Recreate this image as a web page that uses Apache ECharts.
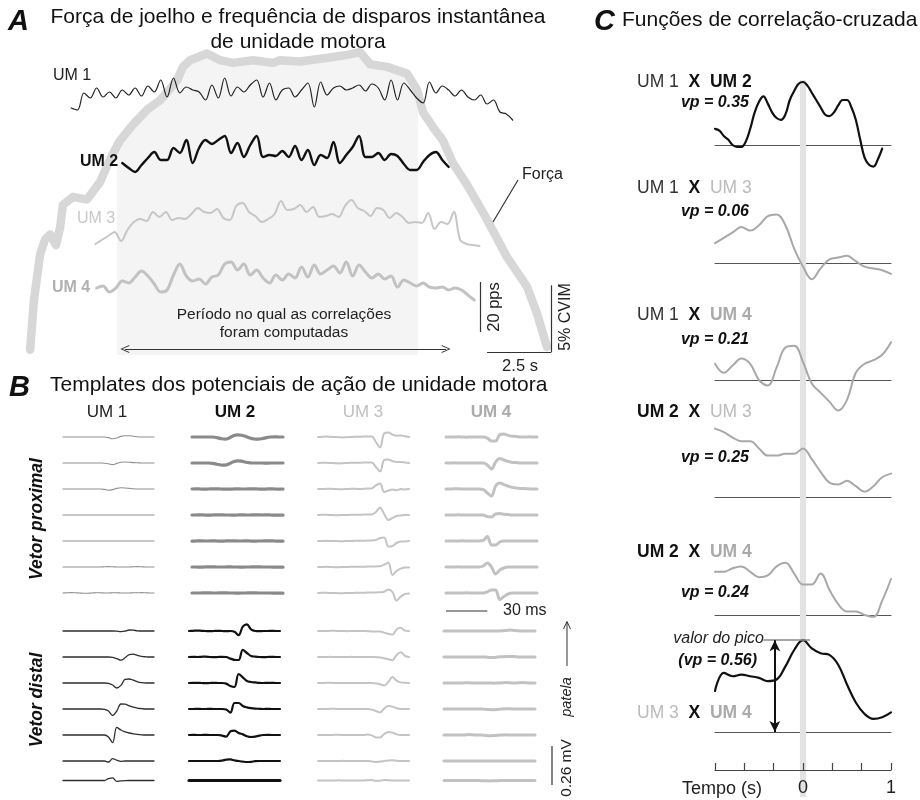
<!DOCTYPE html>
<html><head><meta charset="utf-8">
<script src="https://cdn.jsdelivr.net/npm/echarts@6/dist/echarts.min.js"></script>
<style>html,body{margin:0;padding:0;background:#fff}#c{width:920px;height:800px}</style>
</head><body><div id="c"></div>
<script>
// ===================== DATA =====================
// Panel A: knee force (% CVIM) vs time (s)
const forceTime = [0.2,0.35,0.59,0.78,0.98,1.21,1.37,1.48,1.88,2.42,2.93,3.32,3.71,4.22,4.77,5.27,5.55,5.94,6.17,6.45,7.11,7.62,8.13,8.91,9.69,9.96,10.74,11.91,12.58,13.09,13.48,14.14,14.92,15.31,15.55,15.94,16.33,16.72,17.27,18.05,18.83,19.61,20.0,20.39];
const forceCVIM = [0.4,4.1,7.5,8.6,9.0,8.2,9.5,11.2,11.8,11.6,12.9,14.6,16.0,17.2,18.3,19.0,19.6,20.5,21.5,22.0,22.5,22.0,21.8,22.0,21.8,22.0,21.9,22.2,22.4,22.6,21.7,21.5,21.0,19.8,18.1,17.0,16.0,14.3,12.7,10.1,7.3,5.1,3.1,0.6];
// correlation window (s)
const windowStart = 3.6, windowEnd = 15.35;
// instantaneous discharge rates (pps), sampled every rateStep s from each start time
const rateStep = 0.25;
const um1Start = 1.8;
const um1Rate = [8.8,8,14.8,12.8,16.8,13.2,15.2,12.8,16,14,16.8,13.6,17.6,15.2,20,13.2,20.8,14.8,17.2,16,15.2,12,18,12.8,20.8,13.6,17.2,15.2,18,20,13.2,18.8,12,16,16.8,13.2,16,18.8,9.2,19.2,14,16.8,17.6,16,16.8,18,15.6,18.4,16.8,12,20,12,18.8,16,12.8,10.8,19.2,14.8,17.6,16,13.6,16,13.2,12,14,10.4,12,7.2,6.4,4];
const um2Start = 3.8;
const um2Rate = [18.8,16.8,15.2,18,20.8,23.2,20,20,24.8,22.8,28,18.8,24.8,28,26.4,28,29.6,22.8,26.8,21.2,26,29.6,21.2,22,21.6,23.6,21.2,25.6,20,24,18,22,20.8,27.2,18.8,22,25.2,29.6,21.2,21.2,22.8,20,22.4,21.6,18.4,16,16,19.2,22,23.2,20,17.2];
const um3Start = 2.75;
const um3Rate = [10.4,12,13.6,15.2,11.6,16,19.2,20.4,19.6,23.2,21.2,23.2,20,20.8,20.4,22.4,24.8,23.2,22.8,24.4,20.8,20,25.6,26.8,23.2,21.6,19.2,20.4,22.4,27.6,24,24.4,26,23.2,25.2,21.2,21.6,22.4,21.2,25.6,28,24.8,23.6,21.6,24.8,24,20.8,22.8,21.2,18.8,19.2,18.8,22.8,16.4,19.2,18.4,23.2,12,10.4,10,9.6];
const um4Start = 2.8;
const um4Rate = [16.8,17.6,15.2,16.8,19.6,18.8,21.2,23.6,21.6,18.4,15.2,16,22,26.4,21.6,19.6,20.4,18.4,21.2,22,26.4,27.2,24,26.4,22,24,20.8,18.8,22,20,22.4,20.8,25.2,21.2,26,22.4,24,25.6,22.8,27.2,21.6,26,23.2,20.8,22.4,20.4,21.6,17.2,20,18.8,17.6,18.8,17.2,16.8,17.2,16,16.8,16,14,12];

// Panel B: MUAP templates (µV), one sample every templateStep ms, 7 channels per vector
const templateStep = 3;
const um1Prox = [
 [0,0,0,0,0,0,0,0,0,0,0,-3,-9,-5,3,6,6,4,1,0,0,0,0],
 [0,0,0,0,0,0,0,0,0,0,-1,-4,-8,-2,4,5,4,2,1,0,0,0,0],
 [0,0,0,0,0,0,0,0,0,0,-2,-6,-3,3,6,5,3,1,0,0,0,0,0],
 [0,0,0,0,0,0,0,0,0,0,0,0,0,0,0,0,0,0,0,0,0,0,0],
 [0,0,0,0,0,0,0,0,0,0,0,0,0,0,0,0,0,0,0,0,0,0,0],
 [0,0,0,0,0,0,0,0,0,0,1,2,1,0,0,0,0,1,2,1,0,0,0],
 [0,1,2,1,0,-1,-1,0,1,1,0,0,1,1,0,0,0,1,1,2,1,0,0]];
const um1Dist = [
 [0,0,0,0,0,0,0,0,0,0,0,0,0,-1,-3,-1,5,4,1,0,0,0,0],
 [0,0,0,0,0,0,0,0,0,0,0,0,-2,-8,-16,-4,12,14,8,3,1,0,0],
 [0,0,0,0,0,0,0,0,0,0,0,-2,-10,-25,-12,18,20,14,6,2,0,0,0],
 [0,0,0,0,0,0,0,0,0,0,-2,-10,-32,-10,25,24,16,9,4,2,0,0,0],
 [0,0,0,0,0,0,0,0,0,0,0,-10,-38,38,25,16,10,6,3,1,0,0,0],
 [0,0,0,0,0,0,0,0,0,0,0,-5,12,4,-2,0,0,0,0,0,0,0,0],
 [0,0,0,0,0,0,0,0,0,0,0,12,18,-6,-3,-1,0,0,0,0,0,0,0]];
const um2Prox = [
 [0,0,0,0,0,0,-3,-8,-11,-5,6,11,9,3,-5,-10,-11,-8,-3,0,1,0,0],
 [0,0,0,0,0,-2,-6,-10,-11,-4,6,11,9,4,1,0,0,0,-1,0,0,0,0],
 [0,1,0,-1,0,1,1,0,-1,-1,0,1,0,0,1,1,0,-1,0,1,0,-1,0],
 [0,0,1,0,-1,0,1,1,0,0,-1,0,1,0,0,1,1,0,1,0,-1,-1,-1],
 [-1,0,1,0,0,1,0,-1,0,1,1,0,0,1,0,-1,0,0,1,1,0,-1,-1],
 [0,0,-1,0,1,1,0,0,0,1,0,0,-1,0,0,1,1,0,0,0,-1,-1,-1],
 [0,0,0,1,1,0,0,1,1,0,0,-1,0,0,1,1,0,0,0,0,-1,-1,-1]];
const um2Dist = [
 [0,1,2,1,0,-1,0,1,0,-1,0,-4,-21,22,33,8,0,-1,0,0,1,0,0],
 [0,1,0,1,2,0,-1,0,1,0,-8,-14,-15,36,20,5,2,0,-1,0,1,0,0],
 [0,1,1,0,-1,0,1,0,0,-3,-15,-20,45,28,10,5,3,1,0,1,1,0,0],
 [0,0,1,0,0,1,0,0,0,-3,-18,30,30,15,8,4,2,1,0,1,0,0,0],
 [0,1,0,0,1,0,0,0,-3,-8,18,22,10,3,-6,-10,-8,-3,0,1,0,0,0],
 [0,0,0,0,0,0,0,0,2,7,8,3,0,-3,-5,-4,-1,0,0,0,0,0,0],
 [0,0,0,0,0,0,0,0,0,0,0,0,0,0,0,0,0,0,0,0,0,0,0]];
const um3Prox = [
 [0,1,2,1,0,-1,-2,-1,0,1,1,2,2,3,-25,-52,18,22,12,6,8,4,0],
 [0,1,1,0,-1,-2,-1,0,1,1,1,2,2,2,-20,-42,15,18,10,5,5,3,0],
 [0,0,1,1,0,-1,-1,0,1,1,0,1,2,3,18,28,-15,-8,-3,-6,0,-2,0],
 [0,1,1,0,-1,-1,0,0,1,1,1,2,2,3,15,38,5,-25,-15,-5,-2,0,0],
 [0,0,1,0,0,-1,-1,0,0,1,1,1,2,3,5,15,18,-28,-25,-10,-3,-2,0],
 [0,0,1,0,-1,-1,0,0,1,1,1,1,2,2,3,4,12,22,-40,-20,-8,-3,-2],
 [0,1,1,0,0,-1,-1,0,0,1,1,1,2,2,3,4,6,18,5,-38,-18,-5,-2]];
const um3Dist = [
 [0,0,0,1,1,0,0,-1,0,0,0,0,-1,-2,-3,-3,-8,-14,-18,8,16,2,0],
 [0,0,0,1,0,0,0,0,1,0,0,0,0,0,-1,-2,-6,-12,-16,10,24,6,0],
 [0,0,1,1,0,0,0,0,0,0,0,0,0,0,-2,-6,-12,5,30,12,3,1,0],
 [0,0,0,1,1,0,0,0,0,0,0,0,0,-3,-10,-17,2,15,12,4,0,0,0],
 [0,0,0,0,1,1,0,0,0,0,0,0,2,-2,-12,-13,5,15,12,3,0,0,0],
 [0,0,0,0,0,0,1,0,0,0,0,0,0,-2,-5,-3,0,3,4,1,0,0,0],
 [0,0,0,0,0,1,0,0,0,0,0,0,2,3,-2,-1,3,2,0,0,0,0,0]];
const um4Prox = [
 [0,0,0,1,0,-1,0,0,0,0,-6,-20,-20,12,15,8,4,3,0,0,1,0,0],
 [0,0,1,0,0,0,0,0,0,0,-10,-30,5,22,15,8,3,2,0,0,0,0,0],
 [0,0,1,1,0,0,0,0,0,-3,-20,-35,15,30,22,14,8,5,3,2,1,0,0],
 [0,0,0,1,0,0,0,0,0,0,-8,-10,5,7,4,2,0,0,0,0,0,0,0],
 [0,0,0,0,1,0,0,0,0,3,22,-20,-20,-5,0,0,0,0,0,0,0,0,0],
 [0,0,0,1,0,0,0,0,0,5,20,0,-35,-15,-5,0,0,0,0,0,0,0,0],
 [0,0,0,0,0,1,0,0,0,0,6,15,15,-33,-18,-5,0,0,0,0,0,0,0]];
const um4Dist = [
 [0,0,0,0,0,0,0,0,0,0,0,0,0,0,1,3,5,3,1,0,0,0,0],
 [0,0,0,0,0,0,0,0,0,0,0,-2,-2,0,1,2,3,2,0,0,0,0,0],
 [0,0,0,0,0,1,1,0,0,0,0,0,-1,0,1,2,1,0,1,2,1,0,0],
 [0,0,0,0,0,0,0,0,0,0,-1,-3,-4,-2,0,1,1,0,0,0,0,0,0],
 [0,0,0,0,0,0,2,1,0,0,-2,-4,-3,-1,0,1,0,0,0,0,0,0,0],
 [0,0,0,0,0,0,0,0,0,0,0,0,0,0,0,0,0,0,0,0,0,0,0],
 [0,0,0,0,0,0,0,0,0,-1,-2,-3,-2,-1,0,0,0,0,0,0,0,0,0]];

// Panel C: cross-correlation functions, lag from lagStart (s); cc12 sampled every 0.05 s, the others every 0.1 s
const lagStart = -1;
const cc12Step = 0.05, ccStep = 0.1;
const cc12 = [0.09,0.08,0.05,0.03,0.0,-0.01,-0.01,0.02,0.09,0.18,0.24,0.27,0.23,0.18,0.15,0.14,0.17,0.25,0.30,0.34,0.35,0.33,0.29,0.25,0.21,0.17,0.16,0.18,0.22,0.25,0.25,0.21,0.14,0.03,-0.07,-0.11,-0.12,-0.08,-0.02];
const cc13 = [0.11,0.14,0.17,0.20,0.18,0.21,0.26,0.27,0.21,0.08,-0.02,-0.09,-0.03,0.02,0.03,0.04,0.01,-0.02,-0.03,-0.04,-0.06];
const cc14 = [0.09,0.04,0.08,0.12,0.09,0.0,-0.03,0.07,0.18,0.19,0.1,-0.02,-0.07,-0.12,-0.17,-0.11,0.04,0.09,0.11,0.14,0.21];
const cc23 = [0.38,0.36,0.33,0.31,0.31,0.27,0.23,0.23,0.24,0.24,0.27,0.21,0.14,0.08,0.07,0.09,0.06,0.03,0.06,0.11,0.13];
const cc24 = [0.24,0.24,0.26,0.27,0.24,0.21,0.22,0.27,0.29,0.23,0.17,0.17,0.23,0.14,0.06,0.02,0.02,0.0,-0.01,0.08,0.20];
const cc34 = [0.25,0.36,0.34,0.35,0.34,0.33,0.31,0.32,0.40,0.50,0.56,0.51,0.48,0.47,0.41,0.29,0.18,0.11,0.08,0.09,0.12];
const pairNames = [['UM 1','UM 2'],['UM 1','UM 3'],['UM 1','UM 4'],['UM 2','UM 3'],['UM 2','UM 4'],['UM 3','UM 4']];
const peakValues = ['0.35','0.06','0.21','0.25','0.24','0.56'];
const markerLag = -0.32; // lag where the peak-value arrow is drawn

// ===================== BUILD =====================
const FF = '"Liberation Sans", Arial, Helvetica, sans-serif';
const chart = echarts.init(document.getElementById('c'), null, {renderer:'canvas'});
const grid = [], xAxis = [], yAxis = [], series = [];
function addGrid(box, xr, yr, xExtra, yExtra){
  const gi = grid.length;
  grid.push(Object.assign({show:false, containLabel:false}, box));
  xAxis.push(Object.assign({type:'value', gridIndex:gi, min:xr[0], max:xr[1], show:false, splitLine:{show:false}}, xExtra||{}));
  yAxis.push(Object.assign({type:'value', gridIndex:gi, min:yr[0], max:yr[1], show:false, splitLine:{show:false}}, yExtra||{}));
  return gi;
}
function lineSeries(gi, data, color, width, smooth, z, extra){
  return Object.assign({type:'line', xAxisIndex:gi, yAxisIndex:gi, data, showSymbol:false, symbol:'none',
    smooth: smooth, silent:true, animation:false, z: z||3,
    lineStyle:{color, width, cap:'round', join:'round'}}, extra||{});
}

// ---------- Panel A ----------
const A = {left:25, width:537.6, tMax:21};
const fTop = 355 - 24*13.4;
const gF = addGrid({left:A.left, width:A.width, top:fTop, height:24*13.4}, [0,A.tMax], [0,24]);
function forceAt(t){
  for (let i=1;i<forceTime.length;i++){
    if (forceTime[i]>=t){ const a=(t-forceTime[i-1])/(forceTime[i]-forceTime[i-1]); return forceCVIM[i-1]+a*(forceCVIM[i]-forceCVIM[i-1]); }
  }
  return forceCVIM[forceCVIM.length-1];
}
const shade = [[windowStart, forceAt(windowStart)]];
forceTime.forEach((t,i)=>{ if (t>windowStart && t<windowEnd) shade.push([t, forceCVIM[i]]); });
shade.push([windowEnd, forceAt(windowEnd)]);
series.push(lineSeries(gF, shade, 'rgba(0,0,0,0)', 0, false, 1, {areaStyle:{color:'#f4f4f4', opacity:1}}));
series.push(lineSeries(gF, forceTime.map((t,i)=>[t, forceCVIM[i]]), '#d7d7d7', 8.5, false, 2));
const chev = 'path://M0,12 L6,0 L12,12 L10.6,12 L6,2.8 L1.4,12 Z';
series.push({type:'line', xAxisIndex:gF, yAxisIndex:gF, data:[], silent:true, animation:false, z:6,
  markLine:{silent:true, animation:false, symbol:'none', label:{show:false},
    lineStyle:{color:'#333', width:1.2, type:'solid'},
    data:[
      [{coord:[20.55,0.2]},{coord:[20.55,5.2]}],
      [{coord:[18.05,0.2]},{coord:[20.55,0.2]}],
      [{coord:[3.9,0.45], symbol:chev, symbolSize:[8,9]},{coord:[16.45,0.45], symbol:chev, symbolSize:[8,9]}]
    ]}});
const umDefs = [
  {start:um1Start, rate:um1Rate, base:130, color:'#222', width:1.2},
  {start:um2Start, rate:um2Rate, base:210, color:'#111', width:2.4},
  {start:um3Start, rate:um3Rate, base:270, color:'#c6c6c6', width:2},
  {start:um4Start, rate:um4Rate, base:330, color:'#c2c2c2', width:3}
];
const umGrids = umDefs.map(d=>{
  const gi = addGrid({left:A.left, width:A.width, top:d.base-100, height:125}, [0,A.tMax], [-10,40]);
  series.push(lineSeries(gi, d.rate.map((v,k)=>[d.start + k*rateStep, v]), d.color, d.width, 0.35, 5));
  return gi;
});
series.push({type:'line', xAxisIndex:umGrids[3], yAxisIndex:umGrids[3], data:[], silent:true, animation:false, z:6,
  markLine:{silent:true, animation:false, symbol:'none', label:{show:false},
    lineStyle:{color:'#333', width:1.2, type:'solid'},
    data:[[{coord:[17.77,-0.8]},{coord:[17.77,19.2]}]]}});

// ---------- Panel B ----------
const proxRows = [437,463,489,515,541,567,593];
const distRows = [631,657,683,709,735,761,787];
const tplSets = [
 {data:um1Prox, rows:proxRows, left:63,  color:'#8f8f8f', width:1.1},
 {data:um2Prox, rows:proxRows, left:192, color:'#8a8a8a', width:3.2},
 {data:um3Prox, rows:proxRows, left:318, color:'#c4c4c4', width:2},
 {data:um4Prox, rows:proxRows, left:446, color:'#c2c2c2', width:3},
 {data:um1Dist, rows:distRows, left:63,  color:'#2e2e2e', width:1.3},
 {data:um2Dist, rows:distRows, left:189, color:'#111', width:2.2},
 {data:um3Dist, rows:distRows, left:318, color:'#c4c4c4', width:2},
 {data:um4Dist, rows:distRows, left:444, color:'#c2c2c2', width:3}
];
const tplMax = (um1Prox[0].length-1)*templateStep;
let gScaleX = 0, gScaleY = 0;
tplSets.forEach((s)=>{
  s.data.forEach((tpl, r)=>{
    const gi = addGrid({left:s.left, width:91, top:s.rows[r]-26, height:52}, [0,tplMax], [-130,130]);
    const w = (s.data===um2Dist && r===6) ? 3.2 : s.width;
    series.push(lineSeries(gi, tpl.map((v,i)=>[i*templateStep, v]), s.color, w, 0.35, 3));
    if (s.data===um4Prox && r===6) gScaleX = gi;
    if (s.data===um4Dist && r===6) gScaleY = gi;
  });
});

// ---------- Panel C ----------
const C = {left:715, width:176};
const gBand = addGrid({left:C.left, width:C.width, top:80, height:717}, [-1,1], [0,1]);
series.push({type:'line', xAxisIndex:gBand, yAxisIndex:gBand, data:[], silent:true, animation:false, z:0,
  markArea:{silent:true, animation:false, itemStyle:{color:'#e3e3e3'}, data:[[{xAxis:-0.035},{xAxis:0.035}]]}});
const ccSets = [
  {d:cc12, step:cc12Step, base:145, scale:180, color:'#111', width:2.2},
  {d:cc13, step:ccStep, base:263, scale:180, color:'#a8a8a8', width:2},
  {d:cc14, step:ccStep, base:380, scale:180, color:'#a8a8a8', width:2},
  {d:cc23, step:ccStep, base:497, scale:180, color:'#a8a8a8', width:2},
  {d:cc24, step:ccStep, base:615, scale:180, color:'#a8a8a8', width:2},
  {d:cc34, step:ccStep, base:732, scale:164, color:'#111', width:2.2}
];
let gPair6 = 0;
ccSets.forEach((s, k)=>{
  const yMin = -0.3, yMax = 0.6;
  const gi = addGrid({left:C.left, width:C.width, top:s.base - yMax*s.scale, height:(yMax-yMin)*s.scale}, [-1,1], [yMin,yMax],
    {show:true, axisLine:{show:true, onZero:true, lineStyle:{color:'#555', width:1}}, axisTick:{show:false}, axisLabel:{show:false}});
  series.push(lineSeries(gi, s.d.map((v,i)=>[lagStart + i*s.step, v]), s.color, s.width, 0.4, 4));
  if (k===5) gPair6 = gi;
});
const pv = parseFloat(peakValues[5]);
series.push({type:'line', xAxisIndex:gPair6, yAxisIndex:gPair6, data:[], silent:true, animation:false, z:6,
  markLine:{silent:true, animation:false, label:{show:false},
    data:[
      [{coord:[-0.45, pv], symbol:'none', lineStyle:{color:'#888', width:1.5, type:'solid'}},{coord:[0.08, pv], symbol:'none'}],
      [{coord:[markerLag, pv], symbol:'arrow', symbolSize:[8,11], lineStyle:{color:'#111', width:2, type:'solid'}},{coord:[markerLag, 0], symbol:'arrow', symbolSize:[8,11]}]
    ]}});
const gAxis = addGrid({left:C.left, width:C.width, top:760, height:10}, [-1,1], [0,1],
  {show:true, position:'bottom', interval:1/3, z:10,
   axisLine:{show:true, onZero:false, lineStyle:{color:'#444', width:1.2}},
   axisTick:{show:true, inside:true, length:7, lineStyle:{color:'#444', width:1.2}},
   axisLabel:{show:true, margin:9, fontSize:18, color:'#222', fontFamily:FF,
     formatter:v=>Math.abs(v)<1e-6?'0':(Math.abs(v-1)<1e-6?'1':'')}});

chart.setOption({animation:false, backgroundColor:'#fff', grid, xAxis, yAxis, series});

// ===================== TEXT / ANNOTATIONS =====================
const g = [];
function T(x,y,text,font,fill,align,rot){
  g.push({type:'text', x, y, rotation:rot||0, silent:true, z:100,
    style:{text, font:font+' '+FF, fill:fill||'#222', align:align||'left', verticalAlign:'middle'}});
}
function L(x1,y1,x2,y2,stroke,w){ g.push({type:'line', silent:true, z:100, shape:{x1,y1,x2,y2}, style:{stroke:stroke||'#333', lineWidth:w||1.2}}); }
const R = Math.PI/2;
// A
T(8,22,'A','bold italic 29px','#111');
T(298,17,'Força de joelho e frequência de disparos instantânea','21px','#111','center');
T(298,42,'de unidade motora','21px','#111','center');
T(53,76,'UM 1','16px','#222');
T(80,162,'UM 2','bold 16px','#111');
T(77,219,'UM 3','16px','#c8c8c8');
T(52,288,'UM 4','bold 16px','#b0b0b0');
T(522,175,'Força','16px','#222');
L(493,222,518,180,'#333',1.2);
T(284,315,'Período no qual as correlações','15.5px','#222','center');
T(284,333,'foram computadas','15.5px','#222','center');
T(520,366,'2.5 s','16.5px','#222','center');
T(494,307,'20 pps','16.5px','#222','center',R);
T(566,317,'5% CVIM','16px','#222','center',R);
// B
T(9,388,'B','bold italic 29px','#111');
T(50,385,'Templates dos potenciais de ação de unidade motora','21px','#111','left');
T(107,412,'UM 1','17px','#222','center');
T(235,412,'UM 2','bold 17px','#111','center');
T(363,412,'UM 3','17px','#c0c0c0','center');
T(491,412,'UM 4','bold 17px','#ababab','center');
T(37,519,'Vetor proximal','bold italic 17.5px','#111','center',R);
T(37,700,'Vetor distal','bold italic 17.5px','#111','center',R);
T(503,611,'30 ms','16px','#222','left');
T(567,697,'patela','italic 14.5px','#222','center',R);
T(567,768,'0.26 mV','15.5px','#222','center',R);
L(567,666,567,622,'#333',1);
g.push({type:'polyline', silent:true, z:100, shape:{points:[[563.5,629],[567,621.5],[570.5,629]]}, style:{stroke:'#333', lineWidth:1, fill:null}});
// C
T(594,22,'C','bold italic 29px','#111');
T(622,20,'Funções de correlação-cruzada','21px','#111','left');
const umStyle = {
  'UM 1':{fontSize:17.5, fontWeight:'normal', fill:'#333'},
  'UM 2':{fontSize:17.5, fontWeight:'bold', fill:'#111'},
  'UM 3':{fontSize:17.5, fontWeight:'normal', fill:'#bbbbbb'},
  'UM 4':{fontSize:17.5, fontWeight:'bold', fill:'#aaaaaa'}
};
const keyOf = {'UM 1':'u1','UM 2':'u2','UM 3':'u3','UM 4':'u4'};
const rich = {x:{fontSize:17.5, fontWeight:'bold', fill:'#111', fontFamily:FF}};
Object.keys(umStyle).forEach(k=>{ rich[keyOf[k]] = Object.assign({fontFamily:FF}, umStyle[k]); });
const labelY = [82,188,315,412,552,713];
const vpY = [103,212,340,458,593,null];
pairNames.forEach((p,k)=>{
  g.push({type:'text', x:637, y:labelY[k], silent:true, z:100,
    style:{text:'{'+keyOf[p[0]]+'|'+p[0]+'}  {x|X}  {'+keyOf[p[1]]+'|'+p[1]+'}', rich, verticalAlign:'middle', align:'left', font:'17.5px '+FF}});
  if (vpY[k]!==null) T(749,vpY[k],'vp = '+peakValues[k],'bold italic 16px','#111','right');
});
T(764,639,'valor do pico','italic 16px','#222','right');
T(757,661,'(vp = '+peakValues[5]+')','bold italic 16px','#111','right');
T(722,789,'Tempo (s)','18px','#222','center');

// scale bars of panel B derived from the template axes
const x0 = chart.convertToPixel({xAxisIndex:gScaleX}, 0);
const x30 = chart.convertToPixel({xAxisIndex:gScaleX}, 30);
L(x0,611,x30,611,'#333',1.2);
const yLo = chart.convertToPixel({yAxisIndex:gScaleY}, -30);
const yHi = chart.convertToPixel({yAxisIndex:gScaleY}, 230);
L(552,yLo,552,yHi,'#333',1.2);

chart.setOption({graphic:g});
</script></body></html>
